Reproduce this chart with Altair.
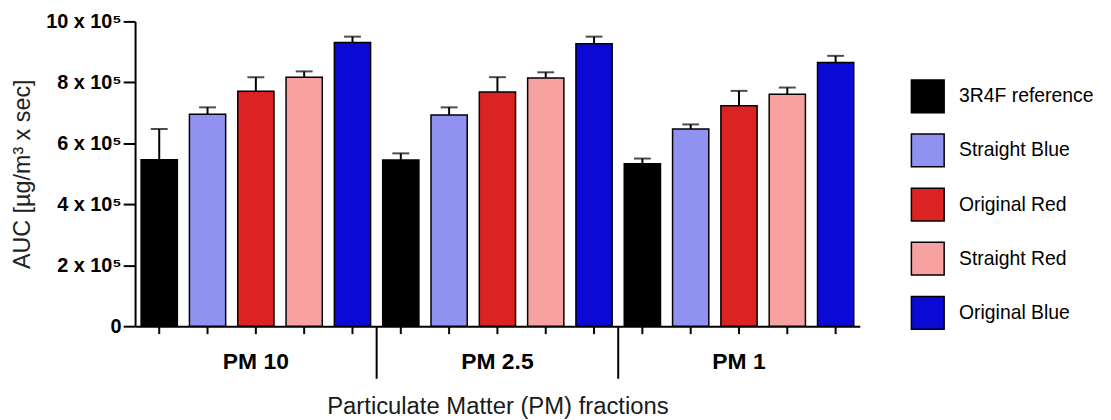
import altair as alt
import pandas as pd

groups = ["PM 10", "PM 2.5", "PM 1"]
series = ["3R4F reference", "Straight Blue", "Original Red", "Straight Red", "Original Blue"]
colors = ["#000000", "#9191F2", "#DC2323", "#F7A1A1", "#0A0AD4"]

# AUC means (x 10^5 µg/m³ x sec) and upper error (SD)
pm10_mean = [5.46, 6.95, 7.71, 8.17, 9.31]
pm10_sd = [1.01, 0.23, 0.46, 0.19, 0.19]
pm25_mean = [5.45, 6.93, 7.68, 8.14, 9.27]
pm25_sd = [0.22, 0.25, 0.49, 0.19, 0.23]
pm1_mean = [5.33, 6.47, 7.23, 7.61, 8.65]
pm1_sd = [0.17, 0.15, 0.49, 0.22, 0.22]

y_ticks = [0, 2, 4, 6, 8, 10]

means = [pm10_mean, pm25_mean, pm1_mean]
sds = [pm10_sd, pm25_sd, pm1_sd]
rows = []
for g, m, s in zip(groups, means, sds):
    for ser, mv, sv in zip(series, m, s):
        rows.append({"group": g, "series": ser, "mean": mv, "top": round(mv + sv, 3)})
df = pd.DataFrame(rows)
sep_df = pd.DataFrame({"group": groups[1:]})

W, H = 730, 307
FONT = "Liberation Sans"

x_main = alt.X(
    "group:N", sort=groups,
    scale=alt.Scale(paddingInner=0, paddingOuter=0),
    axis=alt.Axis(
        title="Particulate Matter (PM) fractions",
        ticks=False, domain=True, domainColor="black", domainWidth=2,
        labelFont=FONT, labelFontSize=23, labelFontWeight="bold", labelColor="black",
        labelPadding=25, labelAngle=0,
        titleFont=FONT, titleFontSize=24, titleFontWeight="normal", titleColor="#1a1a1a",
        titleBaseline="alphabetic", titleY=88, titleX=W / 2, titleAlign="center",
    ),
)
x_plain = alt.X("group:N", sort=groups)
xoff = alt.XOffset("series:N", sort=series,
                   scale=alt.Scale(paddingInner=0.25, paddingOuter=0.125))

y_main = alt.Y(
    "mean:Q",
    scale=alt.Scale(domain=[0, 10], nice=False, zero=True),
    axis=alt.Axis(
        title="AUC [µg/m³ x sec]",
        values=y_ticks, grid=False,
        labelExpr="datum.value == 0 ? '0' : datum.value + ' x 10⁵'",
        labelFont=FONT, labelFontSize=20, labelFontWeight="bold", labelColor="black",
        labelPadding=2,
        tickSize=12, tickWidth=2, tickColor="black",
        domainColor="black", domainWidth=2,
        titleFont=FONT, titleFontSize=23.5, titleFontWeight="normal", titleColor="#222222",
        titleAngle=270, titleBaseline="alphabetic", titleAlign="center",
        titleX=-106, titleY=H / 2,
    ),
)

bars = alt.Chart(df).mark_bar(stroke="black", strokeWidth=1.5).encode(
    x=x_main,
    xOffset=xoff,
    y=y_main,
    color=alt.Color(
        "series:N", sort=series,
        scale=alt.Scale(domain=series, range=colors),
        legend=alt.Legend(
            title=None, orient="none", legendX=781, legendY=58, padding=0,
            symbolType="square", symbolSize=1089, symbolStrokeColor="black",
            symbolStrokeWidth=1.5, symbolOpacity=1,
            labelFont=FONT, labelFontSize=19.5, labelColor="black",
            rowPadding=15.5, labelOffset=14, labelLimit=400,
        ),
    ),
)

whisk = alt.Chart(df).mark_rule(color="black", strokeWidth=2).encode(
    x=x_plain, xOffset=alt.XOffset("series:N", sort=series),
    y="mean:Q", y2="top:Q",
)
caps = alt.Chart(df).mark_tick(color="black", thickness=2, size=17).encode(
    x=x_plain, xOffset=alt.XOffset("series:N", sort=series),
    y="top:Q",
)
xticks = alt.Chart(df).mark_rule(color="black", strokeWidth=2).encode(
    x=x_plain, xOffset=alt.XOffset("series:N", sort=series),
    y=alt.value(H), y2=alt.value(H + 8),
)
seps = alt.Chart(sep_df).mark_rule(color="black", strokeWidth=2).encode(
    x=alt.X("group:N", sort=groups, bandPosition=0),
    y=alt.value(H), y2=alt.value(H + 53),
)

chart = alt.layer(bars, whisk, caps, xticks, seps).properties(
    width=W, height=H,
    autosize=alt.AutoSizeParams(type="none"),
    padding={"left": 128, "top": 12, "right": 245, "bottom": 93},
    background="white",
).configure_view(stroke="transparent")

chart.save("out.html", embed_options={"renderer": "svg", "actions": False})
